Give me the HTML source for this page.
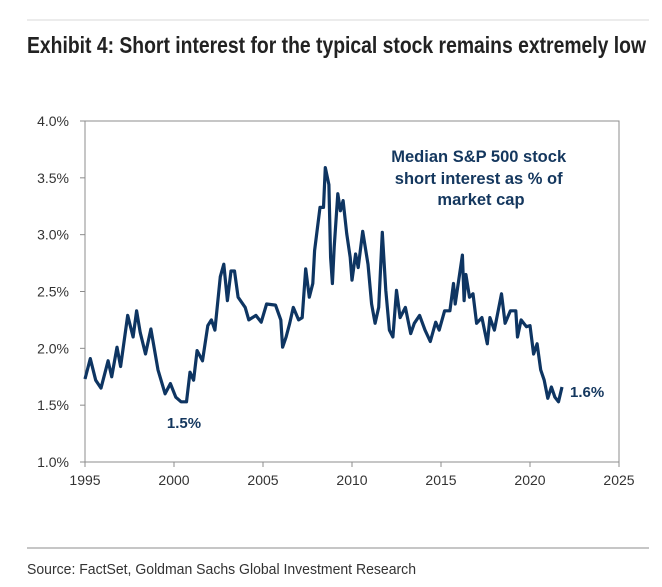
<!DOCTYPE html>
<html><head><meta charset="utf-8">
<style>
html,body{margin:0;padding:0;background:#fff;}
svg{display:block;font-family:"Liberation Sans",Arial,sans-serif;}
</style></head>
<body>
<svg id="chart" width="662" height="587" viewBox="0 0 662 587" xmlns="http://www.w3.org/2000/svg">
  <line x1="27" y1="20" x2="649" y2="20" stroke="#d8d8d8" stroke-width="1"/>
  <text x="27" y="53" font-size="23" font-weight="bold" fill="#222" textLength="619" lengthAdjust="spacingAndGlyphs">Exhibit 4: Short interest for the typical stock remains extremely low</text>
  <rect x="85" y="121" width="534" height="341" fill="none" stroke="#8c8c8c" stroke-width="1"/>
  <g id="yaxis"></g>
  <g id="xaxis"></g>
  <path id="series" fill="none" stroke="#0e3562" stroke-width="3.2" stroke-linejoin="round"/>
  <text font-size="16.5" font-weight="bold" fill="#14375e" text-anchor="middle">
    <tspan x="481" y="162">Median S&amp;P 500 stock</tspan>
    <tspan x="481" y="184">short interest as % of</tspan>
    <tspan x="481" y="205">market cap</tspan>
  </text>
  <text x="184" y="428" font-size="15" font-weight="bold" fill="#14375e" text-anchor="middle">1.5%</text>
  <text x="570" y="397" font-size="15" font-weight="bold" fill="#14375e">1.6%</text>
  <line x1="27" y1="548" x2="649" y2="548" stroke="#8c8c8c" stroke-width="1"/>
  <text x="27" y="574" font-size="15" fill="#333" textLength="389" lengthAdjust="spacingAndGlyphs">Source: FactSet, Goldman Sachs Global Investment Research</text>
</svg>
<script>
const years = [1995.0,1995.3,1995.6,1995.9,1996.3,1996.5,1996.8,1997.0,1997.4,1997.7,1997.9,1998.1,1998.4,1998.7,1999.1,1999.5,1999.8,2000.1,2000.4,2000.7,2000.9,2001.1,2001.3,2001.6,2001.9,2002.1,2002.3,2002.6,2002.8,2003.0,2003.2,2003.4,2003.6,2004.0,2004.2,2004.6,2004.9,2005.2,2005.7,2006.0,2006.1,2006.3,2006.5,2006.7,2007.0,2007.2,2007.4,2007.6,2007.8,2007.9,2008.2,2008.4,2008.5,2008.7,2008.8,2008.9,2009.0,2009.2,2009.35,2009.5,2009.7,2009.9,2010.0,2010.2,2010.35,2010.6,2010.9,2011.1,2011.3,2011.5,2011.7,2011.9,2012.1,2012.3,2012.5,2012.7,2013.0,2013.3,2013.5,2013.8,2014.1,2014.4,2014.7,2014.9,2015.2,2015.5,2015.7,2015.8,2016.2,2016.3,2016.4,2016.6,2016.8,2017.0,2017.3,2017.6,2017.75,2018.0,2018.4,2018.6,2018.9,2019.2,2019.3,2019.5,2019.8,2020.0,2020.2,2020.4,2020.6,2020.8,2021.0,2021.2,2021.4,2021.6,2021.8];
const values = [1.73,1.91,1.72,1.65,1.89,1.75,2.01,1.84,2.29,2.10,2.33,2.14,1.95,2.17,1.81,1.60,1.69,1.57,1.53,1.53,1.79,1.72,1.98,1.89,2.20,2.25,2.16,2.63,2.74,2.42,2.68,2.68,2.45,2.36,2.25,2.29,2.23,2.39,2.38,2.25,2.01,2.10,2.22,2.36,2.25,2.27,2.70,2.45,2.57,2.86,3.24,3.24,3.59,3.44,2.80,2.57,2.89,3.36,3.21,3.30,3.01,2.80,2.60,2.83,2.71,3.03,2.74,2.39,2.22,2.36,3.02,2.51,2.16,2.10,2.51,2.27,2.36,2.13,2.22,2.29,2.16,2.06,2.23,2.16,2.33,2.33,2.57,2.39,2.82,2.42,2.65,2.45,2.48,2.22,2.27,2.04,2.27,2.16,2.48,2.22,2.33,2.33,2.10,2.25,2.19,2.20,1.95,2.04,1.81,1.72,1.56,1.66,1.57,1.53,1.66];
const yTicks = [1.0,1.5,2.0,2.5,3.0,3.5,4.0];
const xTicks = [1995,2000,2005,2010,2015,2020,2025];

const NS = "http://www.w3.org/2000/svg";
const X0=85, X1=619, Y0=462, Y1=121;
const xScale = v => X0 + (v-1995)/(2025-1995)*(X1-X0);
const yScale = v => Y0 - (v-1.0)/(4.0-1.0)*(Y0-Y1);

const yaxis = document.getElementById('yaxis');
yTicks.forEach(t => {
  const y = yScale(t);
  const ln = document.createElementNS(NS,'line');
  ln.setAttribute('x1',X0-5); ln.setAttribute('x2',X0); ln.setAttribute('y1',y); ln.setAttribute('y2',y);
  ln.setAttribute('stroke','#8c8c8c');
  
  
  yaxis.appendChild(ln);
  const tx = document.createElementNS(NS,'text');
  tx.setAttribute('x',X0-16); tx.setAttribute('y',y+5);
  tx.setAttribute('text-anchor','end'); tx.setAttribute('font-size','14'); tx.setAttribute('fill','#333');
  tx.textContent = t.toFixed(1)+'%';
  
  
  yaxis.appendChild(tx);
});
const xaxis = document.getElementById('xaxis');
xTicks.forEach(t => {
  const x = xScale(t);
  const ln = document.createElementNS(NS,'line');
  ln.setAttribute('x1',x); ln.setAttribute('x2',x); ln.setAttribute('y1',Y0); ln.setAttribute('y2',Y0+5);
  ln.setAttribute('stroke','#8c8c8c');
  
  
  xaxis.appendChild(ln);
  const tx = document.createElementNS(NS,'text');
  tx.setAttribute('x',x); tx.setAttribute('y',Y0+23);
  tx.setAttribute('text-anchor','middle'); tx.setAttribute('font-size','14'); tx.setAttribute('fill','#333');
  tx.textContent = t;
  
  
  xaxis.appendChild(tx);
});
let d = '';
years.forEach((yr,i) => { d += (i?'L':'M') + xScale(yr).toFixed(1) + ',' + yScale(values[i]).toFixed(1); });
document.getElementById('series').setAttribute('d', d);
</script>
</body></html>
